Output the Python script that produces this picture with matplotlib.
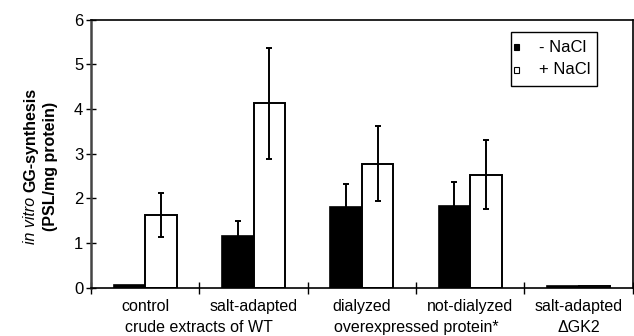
import numpy as np
import matplotlib
matplotlib.use("Agg")
import matplotlib.pyplot as plt
from matplotlib.patches import Rectangle
from matplotlib.transforms import blended_transform_factory

plt.rcParams['font.family'] = ['Liberation Sans', 'DejaVu Sans']

# data
groups = ['control', 'salt-adapted', 'dialyzed', 'not-dialyzed', 'salt-adapted']
subgroups = ['crude extracts of WT', 'overexpressed protein*', '\u0394GK2']
minus_nacl = [0.05, 1.15, 1.80, 1.82, 0.04]
minus_err = [0.0, 0.35, 0.53, 0.55, 0.0]
plus_nacl = [1.62, 4.13, 2.78, 2.53, 0.03]
plus_err = [0.49, 1.24, 0.84, 0.77, 0.0]
legend_labels = ['- NaCl', '+ NaCl']
legend_colors = ['black', 'white']

W, H = 634, 336
fig = plt.figure(figsize=(W / 100, H / 100), dpi=100)
ax = fig.add_axes([0.1435, 0.144, 0.8545, 0.797])

x = np.arange(len(groups))
w = 0.29

ax.bar(x - w / 2, minus_nacl, w, color='black', edgecolor='black', linewidth=1.2, zorder=2)
ax.bar(x + w / 2, plus_nacl, w, color='white', edgecolor='black', linewidth=1.4, zorder=2)

# error bars only where there is one
for i in range(len(groups)):
    if minus_err[i] > 0:
        ax.errorbar(x[i] - w / 2, minus_nacl[i], yerr=minus_err[i], fmt='none',
                    ecolor='black', elinewidth=1.4, capsize=2.2, capthick=1.4, zorder=3)
    if plus_err[i] > 0:
        ax.errorbar(x[i] + w / 2, plus_nacl[i], yerr=plus_err[i], fmt='none',
                    ecolor='black', elinewidth=1.4, capsize=2.2, capthick=1.4, zorder=3)

ax.set_xlim(-0.5, len(groups) - 0.5)
ax.set_ylim(0, 6)
ax.set_yticks(range(0, 7))
ax.set_xticks(np.arange(-0.5, len(groups)))
ax.set_xticklabels([])
ax.tick_params(axis='y', direction='inout', length=7, width=1, labelsize=12, pad=2)
ax.tick_params(axis='x', direction='inout', length=9, width=1)

for s in ['top', 'right', 'bottom']:
    ax.spines[s].set_linewidth(1.2)
ax.spines['left'].set_linewidth(1.8)
ax.spines['left'].set_color('#444444')

# category labels, two rows
trans = blended_transform_factory(ax.transData, ax.transAxes)
for i, g in enumerate(groups):
    ax.annotate(g, xy=(x[i], 0), xycoords=trans, xytext=(0, -8),
                textcoords='offset points', ha='center', va='top', fontsize=11.5)
sub_x = [0.5, 2.5, 4.0]
for sx, s in zip(sub_x, subgroups):
    ax.annotate(s, xy=(sx, 0), xycoords=trans, xytext=(0, -23),
                textcoords='offset points', ha='center', va='top', fontsize=11.5)

# y label: "in vitro" italic, rest bold
renderer = fig.canvas.get_renderer()
t1 = fig.text(0.048, 0, 'in vitro ', style='italic', rotation=90,
              ha='center', va='bottom', fontsize=11.5)
t2 = fig.text(0.048, 0, 'GG-synthesis', weight='bold', rotation=90,
              ha='center', va='bottom', fontsize=11.5)
h1 = t1.get_window_extent(renderer).height / fig.bbox.height
h2 = t2.get_window_extent(renderer).height / fig.bbox.height
yc = 1 - 166 / H
t1.set_y(yc - (h1 + h2) / 2)
t2.set_y(yc - (h1 + h2) / 2 + h1)
fig.text(0.080, yc, '(PSL/mg protein)', weight='bold', rotation=90,
         ha='center', va='center', fontsize=11.5)

# legend box drawn by hand (square marker sits close to the frame)
def px(xp, yp):
    return xp / W, 1 - yp / H

bx0, by0 = px(511, 86)
bx1, by1 = px(597, 32)
fig.patches.append(Rectangle((bx0, by0), bx1 - bx0, by1 - by0, transform=fig.transFigure,
                             facecolor='white', edgecolor='black', linewidth=1.0, zorder=5))
for k, (lab, col) in enumerate(zip(legend_labels, legend_colors)):
    yy = 47 + 23 * k
    mx, my = px(513.5, yy + 3)
    fig.patches.append(Rectangle((mx, my), 5 / W, 6 / H, transform=fig.transFigure,
                                 facecolor=col, edgecolor='black', linewidth=0.8, zorder=6))
    tx, ty = px(539, yy)
    fig.text(tx, ty, lab, ha='left', va='center', fontsize=12, zorder=6)

fig.savefig('out.png', dpi=100)
